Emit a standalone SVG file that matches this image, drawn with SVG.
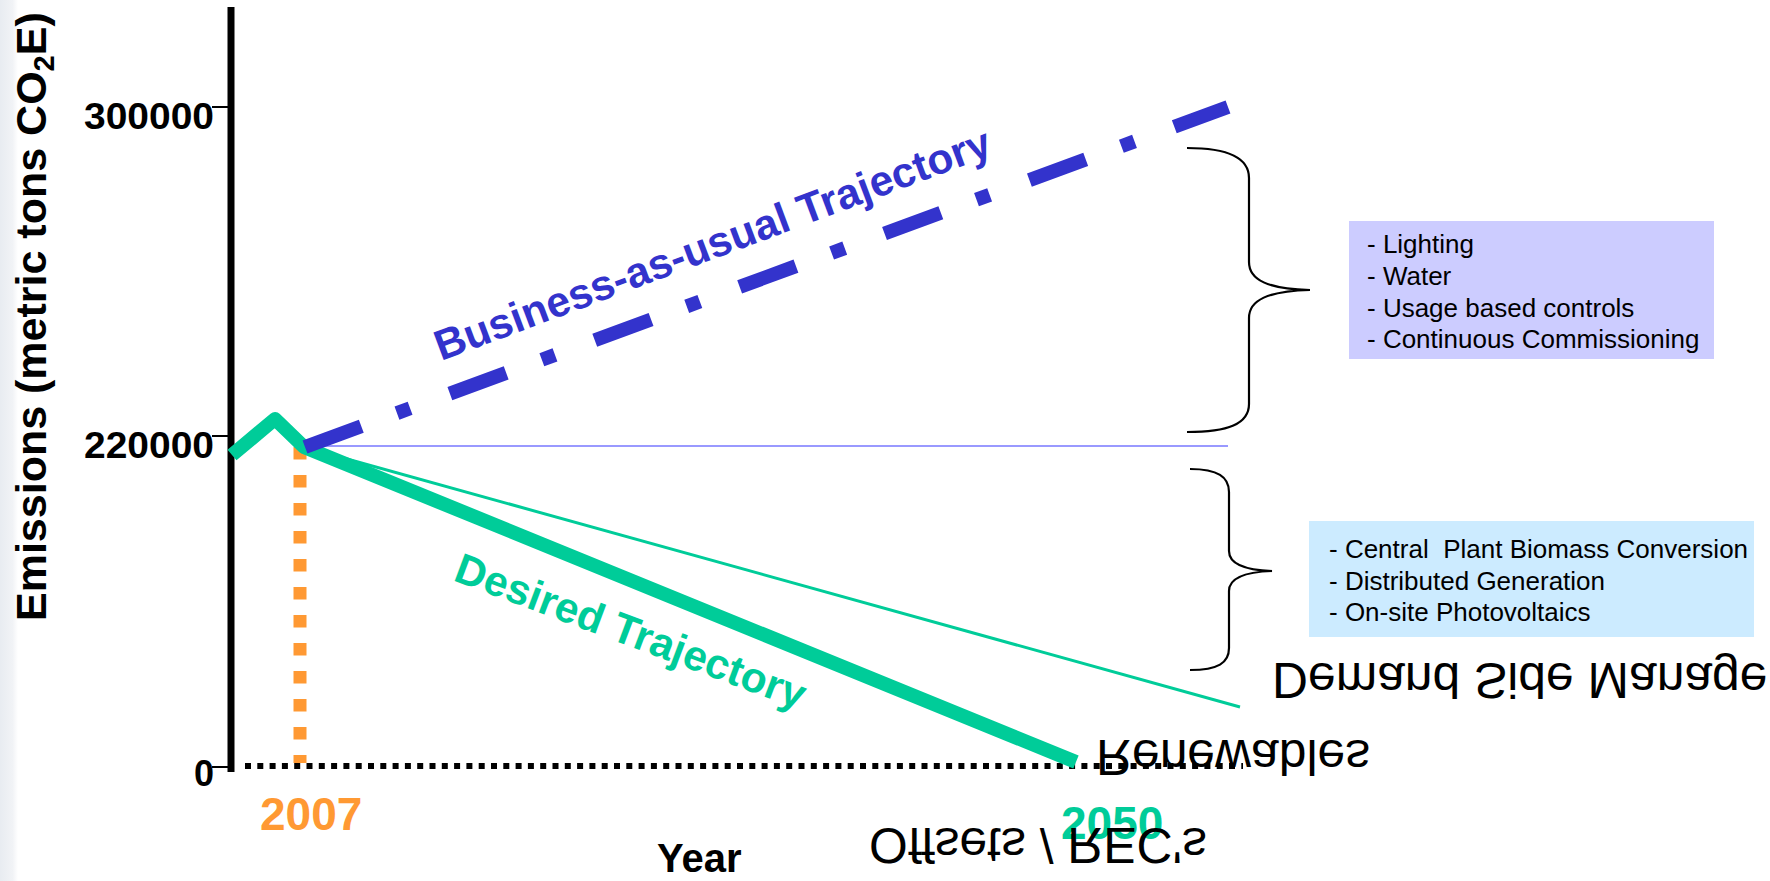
<svg xmlns="http://www.w3.org/2000/svg" width="1770" height="881" viewBox="0 0 1770 881">
  <defs>
    <linearGradient id="edge" x1="0" y1="0" x2="1" y2="0">
      <stop offset="0" stop-color="#e8ecf1"/>
      <stop offset="0.7" stop-color="#f1f3f6"/>
      <stop offset="1" stop-color="#ffffff"/>
    </linearGradient>
    <style>
      .lbl { font-family: "Liberation Sans", Arial, sans-serif; font-weight: bold; }
      .num { font-family: "Liberation Sans", Arial, sans-serif; font-weight: bold; font-size: 36px; fill: #000; text-anchor: end; }
      .box { font-family: "Liberation Sans", Arial, sans-serif; font-size: 26px; fill: #000; }
      .flip { font-family: "Liberation Sans", Arial, sans-serif; font-size: 49.8px; fill: #000; }
      .brace { fill: none; stroke: #000; stroke-width: 2.2; }
    </style>
  </defs>
  <rect x="0" y="0" width="1770" height="881" fill="#ffffff"/>
  <rect x="0" y="0" width="18" height="881" fill="url(#edge)"/>

  <g id="axes">
    <line x1="231" y1="7" x2="231" y2="772" stroke="#000" stroke-width="7"/>
    <line x1="212" y1="107" x2="231" y2="107" stroke="#000" stroke-width="2"/>
    <line x1="212" y1="436" x2="231" y2="436" stroke="#000" stroke-width="2"/>
    <line x1="212" y1="767" x2="231" y2="767" stroke="#000" stroke-width="2"/>
    <line x1="245" y1="766" x2="1243" y2="766" stroke="#000" stroke-width="6" stroke-dasharray="6 6.3"/>
    <text class="num" x="214" y="129" textLength="130" lengthAdjust="spacingAndGlyphs">300000</text>
    <text class="num" x="214" y="458" textLength="130" lengthAdjust="spacingAndGlyphs">220000</text>
    <text class="num" x="214" y="786">0</text>
    <text class="lbl" transform="translate(46,621) rotate(-90)" font-size="43" fill="#000">Emissions (metric tons CO<tspan font-size="29" dy="8">2</tspan><tspan dy="-8">E)</tspan></text>
    <text class="lbl" x="657" y="872" font-size="40" fill="#000">Year</text>
    <text class="lbl" x="260" y="830" font-size="46" fill="#FF9933">2007</text>
    <text class="lbl" x="1061" y="839" font-size="46" fill="#00CC99">2050</text>
  </g>

  <g id="connectors">
    <line id="baseline-2007" x1="305" y1="446" x2="1228" y2="446" stroke="#9999FF" stroke-width="2"/>
    <line id="marker-2007" x1="300" y1="447" x2="300" y2="763" stroke="#FF9933" stroke-width="13" stroke-dasharray="12.5 15.5"/>
    <line id="dsm-line" x1="304" y1="447" x2="1240" y2="707" stroke="#00CC99" stroke-width="3"/>
    <polyline id="desired" points="232,455 275,419 304,447 1076,762" fill="none" stroke="#00CC99" stroke-width="14" stroke-linejoin="round"/>
    <line id="bau" x1="305" y1="447" x2="1228" y2="107" stroke="#3333CC" stroke-width="14" stroke-dasharray="60 38 14 42.4"/>
  </g>

  <g id="bau-label">
    <text class="lbl" transform="translate(441,361) rotate(-20.5)" font-size="42.5" fill="#3333CC">Business-as-usual Trajectory</text>
  </g>
  <g id="desired-label">
    <text class="lbl" transform="translate(452,580) rotate(20.5)" font-size="42.5" fill="#00CC99">Desired Trajectory</text>
  </g>

  <g id="brace-efficiency">
    <path class="brace" d="M1187,148 C1228,148 1249,158 1249,178 L1249,262 C1249,280 1268,289 1310,290 C1268,291 1249,300 1249,318 L1249,404 C1249,424 1228,432 1187,432"/>
  </g>
  <g id="brace-renewables">
    <path class="brace" d="M1190,469 C1218,469 1229,477 1229,492 L1229,551 C1229,564 1244,570 1272,571 C1244,572 1229,578 1229,591 L1229,648 C1229,663 1218,670 1190,670"/>
  </g>

  <g id="box-efficiency">
    <rect x="1349" y="221" width="365" height="138" fill="#CCCCFF"/>
    <text class="box" x="1367" y="253">- Lighting</text>
    <text class="box" x="1367" y="285">- Water</text>
    <text class="box" x="1367" y="317">- Usage based controls</text>
    <text class="box" x="1367" y="348">- Continuous Commissioning</text>
  </g>
  <g id="box-renewables">
    <rect x="1309" y="521" width="445" height="116" fill="#CCEBFF"/>
    <text class="box" x="1329" y="558" xml:space="preserve">- Central  Plant Biomass Conversion</text>
    <text class="box" x="1329" y="590">- Distributed Generation</text>
    <text class="box" x="1329" y="621">- On-site Photovoltaics</text>
  </g>

  <g id="flipped-labels">
    <text class="flip" transform="translate(1272,663) scale(1,-1)">Demand Side Manage</text>
    <text class="flip" font-size="51" transform="translate(1096,740) scale(1,-1)">Renewables</text>
    <text class="flip" font-size="49.5" transform="translate(869,828) scale(1,-1)">Offsets / REC's</text>
  </g>
</svg>
